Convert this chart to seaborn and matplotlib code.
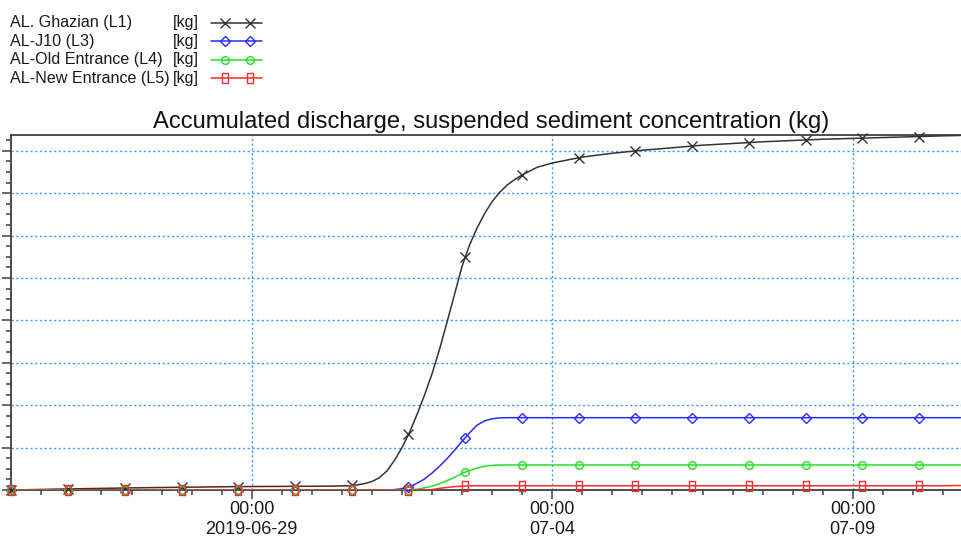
import numpy as np
import pandas as pd
import matplotlib
matplotlib.use("Agg")
import matplotlib.pyplot as plt
import matplotlib.dates as mdates
from matplotlib.lines import Line2D
from matplotlib.path import Path
from matplotlib.ticker import FixedLocator, MultipleLocator, NullFormatter
import seaborn as sns

# ---------------- data ----------------
times = ["2019-06-25 00:00", "2019-06-25 18:00", "2019-06-27 00:00", "2019-06-28 18:00",
         "2019-06-30 06:00", "2019-06-30 15:00", "2019-06-30 18:00", "2019-06-30 21:00",
         "2019-07-01 00:00", "2019-07-01 03:00", "2019-07-01 06:00", "2019-07-01 09:00",
         "2019-07-01 12:00", "2019-07-01 15:00", "2019-07-01 18:00", "2019-07-01 21:00",
         "2019-07-02 00:00", "2019-07-02 03:00", "2019-07-02 06:00", "2019-07-02 09:00",
         "2019-07-02 12:00", "2019-07-02 15:00", "2019-07-02 18:00", "2019-07-02 21:00",
         "2019-07-03 00:00", "2019-07-03 03:00", "2019-07-03 06:00", "2019-07-03 09:00",
         "2019-07-03 12:00", "2019-07-03 18:00", "2019-07-04 00:00", "2019-07-04 12:00",
         "2019-07-05 00:00", "2019-07-05 12:00", "2019-07-06 12:00", "2019-07-07 12:00",
         "2019-07-08 12:00", "2019-07-09 12:00", "2019-07-10 12:00", "2019-07-10 19:00"]

ghazian = [0.00, 0.02, 0.05, 0.08, 0.09, 0.10, 0.12, 0.15, 0.20, 0.29, 0.45, 0.70,
           1.00, 1.36, 1.78, 2.24, 2.74, 3.32, 3.96, 4.62, 5.28, 5.78, 6.18, 6.52,
           6.80, 7.02, 7.19, 7.32, 7.43, 7.61, 7.71, 7.85, 7.94, 8.01, 8.13, 8.21,
           8.27, 8.31, 8.35, 8.36]
j10 = [0, 0, 0, 0, 0, 0, 0, 0, 0, 0, 0, 0.01,
       0.03, 0.07, 0.16, 0.26, 0.40, 0.56, 0.74, 0.94, 1.15, 1.35, 1.53, 1.63,
       1.68, 1.70, 1.705, 1.705, 1.705, 1.705, 1.705, 1.705, 1.705, 1.705, 1.705, 1.705,
       1.705, 1.705, 1.705, 1.705]
old_entrance = [0, 0, 0, 0, 0, 0, 0, 0, 0, 0, 0, 0,
                0, 0.005, 0.02, 0.05, 0.09, 0.15, 0.22, 0.30, 0.39, 0.46, 0.52, 0.56,
                0.58, 0.59, 0.59, 0.59, 0.59, 0.59, 0.59, 0.59, 0.59, 0.59, 0.59, 0.59,
                0.59, 0.59, 0.59, 0.59]
new_entrance = [0, 0, 0, 0, 0, 0, 0, 0, 0, 0, 0, 0,
                0, 0, 0, 0, 0.01, 0.04, 0.06, 0.08, 0.09, 0.095, 0.10, 0.10,
                0.10, 0.10, 0.10, 0.10, 0.10, 0.10, 0.10, 0.10, 0.10, 0.10, 0.10, 0.10,
                0.10, 0.10, 0.10, 0.105]

series_names = ["AL. Ghazian (L1)", "AL-J10 (L3)", "AL-Old Entrance (L4)", "AL-New Entrance (L5)"]
unit_label = "[kg]"
title = "Accumulated discharge, suspended sediment concentration (kg)"
tick_dates = ["2019-06-29", "2019-07-04", "2019-07-09"]
tick_labels = ["00:00\n2019-06-29", "00:00\n07-04", "00:00\n07-09"]

# ---------------- style ----------------
sns.set_theme(style="white")
plt.rcParams["font.family"] = ["Liberation Sans", "DejaVu Sans"]

colors = ["#333333", "#2a2aff", "#22e022", "#ff2a2a"]
rect = Path([(-0.6, -1), (0.6, -1), (0.6, 1), (-0.6, 1), (-0.6, -1)],
            [Path.MOVETO, Path.LINETO, Path.LINETO, Path.LINETO, Path.CLOSEPOLY])
markers = ["x", "D", "o", rect]
msizes = [6.5, 5.0, 5.5, 7.2]

W, H = 961, 543
fig = plt.figure(figsize=(W / 100, H / 100), dpi=100)
ax = fig.add_axes([11.3 / W, 53 / H, (W - 11.3) / W, 355 / H])

t = pd.to_datetime(times)
df = pd.DataFrame({"time": t, series_names[0]: ghazian, series_names[1]: j10,
                   series_names[2]: old_entrance, series_names[3]: new_entrance})
long = df.melt(id_vars="time", var_name="series", value_name="kg")

sns.lineplot(data=long, x="time", y="kg", hue="series", palette=dict(zip(series_names, colors)),
             hue_order=series_names, linewidth=1.1, ax=ax, legend=False)
for i, line in enumerate(ax.lines):
    line.set_zorder(3 + i)

# markers at evenly spaced screen positions (every ~0.944 days), values from data
tn = mdates.date2num(t)
mk_t = tn[0] + np.arange(17) * 0.944
for i, name in enumerate(series_names):
    mv = np.interp(mk_t, tn, df[name].values)
    ax.plot(mk_t, mv, linestyle="none", marker=markers[i], markersize=msizes[i],
            markerfacecolor="none", markeredgecolor=colors[i], markeredgewidth=1.0,
            clip_on=False, zorder=10 + i)

ax.set_xlim(tn[0], tn[0] + 15.8)
ax.set_ylim(0, 8.37)
ax.set_xlabel("")
ax.set_ylabel("")

ax.xaxis.set_major_locator(FixedLocator(mdates.date2num(pd.to_datetime(tick_dates))))
ax.set_xticklabels(tick_labels)
ax.xaxis.set_minor_locator(mdates.HourLocator(byhour=[0, 12]))
ax.xaxis.set_minor_formatter(NullFormatter())
ax.yaxis.set_major_locator(MultipleLocator(1))
ax.yaxis.set_minor_locator(MultipleLocator(0.25))
ax.tick_params(axis="y", labelleft=False)

spine_c = "#404040"
ax.tick_params(which="both", bottom=True, left=True, top=False, right=False,
               direction="out", color=spine_c, width=1.1)
ax.tick_params(which="major", length=6.2)
ax.tick_params(which="minor", length=3.5)
ax.tick_params(axis="x", which="major", labelsize=13, labelcolor="#1a1a1a", pad=2)
for lab in ax.get_xticklabels():
    lab.set_linespacing(1.2)

for s in ["left", "bottom", "top"]:
    ax.spines[s].set_color(spine_c)
    ax.spines[s].set_linewidth(1.3)
ax.spines["right"].set_visible(False)

ax.grid(True, which="major", color="#3f9cff", linestyle=(0, (1.6, 1.8)), linewidth=1.0)
ax.set_axisbelow(True)

ax.set_title(title, fontsize=17.1, color="#111111", pad=5, x=0.505)

# legend block (top-left)
for i, name in enumerate(series_names):
    yc = 1 - (22.7 + 18.5 * i) / H
    fig.text(10 / W, yc, name, fontsize=11.6, color="#1a1a1a", va="center", ha="left")
    fig.text(173 / W, yc, unit_label, fontsize=11.6, color="#1a1a1a", va="center", ha="left")
    fig.add_artist(Line2D([211 / W, 262 / W], [yc, yc], transform=fig.transFigure,
                          color=colors[i], linewidth=1.1))
    fig.add_artist(Line2D([225 / W, 249.5 / W], [yc, yc], transform=fig.transFigure,
                          linestyle="none", marker=markers[i], markersize=msizes[i],
                          markerfacecolor="none", markeredgecolor=colors[i],
                          markeredgewidth=1.0))

fig.savefig("out.png", dpi=100)
